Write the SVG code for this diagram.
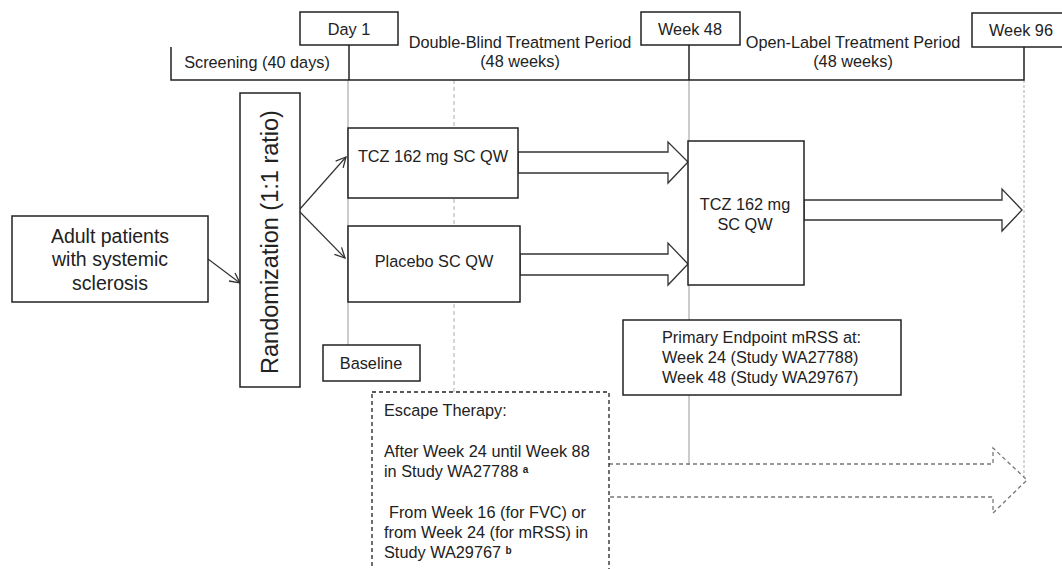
<svg xmlns="http://www.w3.org/2000/svg" width="1062" height="569" viewBox="0 0 1062 569">
<style>
text{font-family:"Liberation Sans",Arial,sans-serif;font-size:16.3px;fill:#222}
.box{fill:#fff;stroke:#222;stroke-width:1.5}
.tl{stroke:#222;stroke-width:1.5;fill:none}
.gl{stroke:#999;stroke-width:1;fill:none}
.gd{stroke:#aaa;stroke-width:1;stroke-dasharray:4 3;fill:none}
.gdot{stroke:#bbb;stroke-width:1.2;stroke-dasharray:3 2;fill:none}
.harrow{fill:#fff;stroke:#333;stroke-width:1.3}
.darrow{fill:none;stroke:#777;stroke-width:1.3;stroke-dasharray:4 3}
.conn{stroke:#333;stroke-width:1.2;fill:none}
.mid{text-anchor:middle}
.sup{font-size:10px;font-weight:bold}
</style>
<defs>
<marker id="oa" viewBox="0 0 12 12" refX="11" refY="6" markerWidth="12" markerHeight="12" markerUnits="userSpaceOnUse" orient="auto">
<path d="M1,1 L11,6 L1,11" fill="none" stroke="#333" stroke-width="1.3"/>
</marker>
</defs>

<g id="guides">
<line class="gl" x1="348" y1="80" x2="348" y2="345"/>
<line class="gd" x1="454" y1="80" x2="454" y2="392"/>
<line class="gl" x1="689" y1="80" x2="689" y2="320"/>
<line class="gl" x1="689" y1="395" x2="689" y2="465"/>
<line class="gdot" x1="1024" y1="80" x2="1024" y2="478"/>
</g>

<g id="timeline">
<polyline class="tl" points="171,47 171,80 1024,80 1024,47"/>
<line class="tl" x1="349" y1="45" x2="349" y2="80"/>
<line class="tl" x1="689" y1="45" x2="689" y2="80"/>
<text class="mid" x="257" y="68">Screening (40 days)</text>
<text class="mid" x="520" y="48">Double-Blind Treatment Period</text>
<text class="mid" x="520" y="67">(48 weeks)</text>
<text class="mid" x="853" y="48">Open-Label Treatment Period</text>
<text class="mid" x="853" y="67">(48 weeks)</text>
</g>

<g id="day1">
<rect class="box" x="300" y="12" width="98" height="33"/>
<text class="mid" x="349" y="35">Day 1</text>
</g>
<g id="week48">
<rect class="box" x="641" y="12" width="99" height="33"/>
<text class="mid" x="690" y="35">Week 48</text>
</g>
<g id="week96">
<rect class="box" x="972" y="13" width="92" height="34"/>
<text class="mid" x="1021" y="36">Week 96</text>
</g>

<g id="connectors">
<line class="conn" x1="208" y1="259" x2="240" y2="283" marker-end="url(#oa)"/>
<line class="conn" x1="300" y1="209" x2="346" y2="157" marker-end="url(#oa)"/>
<line class="conn" x1="300" y1="212" x2="345" y2="258" marker-end="url(#oa)"/>
<polygon class="harrow" points="518,152 668,152 668,142 688,162 668,183 668,173 518,173"/>
<polygon class="harrow" points="520,254 668,254 668,243 688,264 668,285 668,275 520,275"/>
<polygon class="harrow" points="804,200 1002,200 1002,189 1022,210 1002,231 1002,220 804,220"/>
<path class="darrow" d="M609,464 H993 V448 L1027,480 L993,513 V497 H609"/>
</g>

<g id="adult">
<rect class="box" x="12" y="216" width="196" height="86"/>
<text class="mid" x="110" y="243" style="font-size:19.5px">Adult patients</text>
<text class="mid" x="110" y="266" style="font-size:19.5px">with systemic</text>
<text class="mid" x="110" y="290" style="font-size:19.5px">sclerosis</text>
</g>

<g id="randomization">
<rect class="box" x="240" y="93" width="60" height="294"/>
<text class="mid" transform="translate(278,242) rotate(-90)" style="font-size:23.5px">Randomization (1:1 ratio)</text>
</g>

<g id="tcz">
<rect class="box" x="348" y="128" width="170" height="70"/>
<text class="mid" x="433" y="162">TCZ 162 mg SC QW</text>
</g>

<g id="placebo">
<rect class="box" x="348" y="226" width="172" height="76"/>
<text class="mid" x="434" y="267">Placebo SC QW</text>
</g>

<g id="tcz-ol">
<rect class="box" x="688" y="141" width="116" height="144"/>
<text class="mid" x="745" y="210">TCZ 162 mg</text>
<text class="mid" x="745" y="230">SC QW</text>
</g>

<g id="baseline">
<rect class="box" x="323" y="345" width="97" height="36"/>
<text class="mid" x="371" y="369">Baseline</text>
</g>

<g id="endpoint">
<rect class="box" x="623" y="320" width="278" height="75"/>
<text x="662" y="343">Primary Endpoint mRSS at:</text>
<text x="662" y="363">Week 24 (Study WA27788)</text>
<text x="662" y="383">Week 48 (Study WA29767)</text>
</g>

<g id="escape">
<rect x="372" y="392" width="237" height="200" fill="#fff" stroke="#222" stroke-width="1.3" stroke-dasharray="4 3"/>
<text x="384" y="416">Escape Therapy:</text>
<text x="384" y="457">After Week 24 until Week 88</text>
<text x="384" y="477">in Study WA27788 <tspan class="sup" dy="-4">a</tspan></text>
<text x="389" y="518">From Week 16 (for FVC) or</text>
<text x="384" y="538">from Week 24 (for mRSS) in</text>
<text x="384" y="558">Study WA29767 <tspan class="sup" dy="-4">b</tspan></text>
</g>
</svg>
